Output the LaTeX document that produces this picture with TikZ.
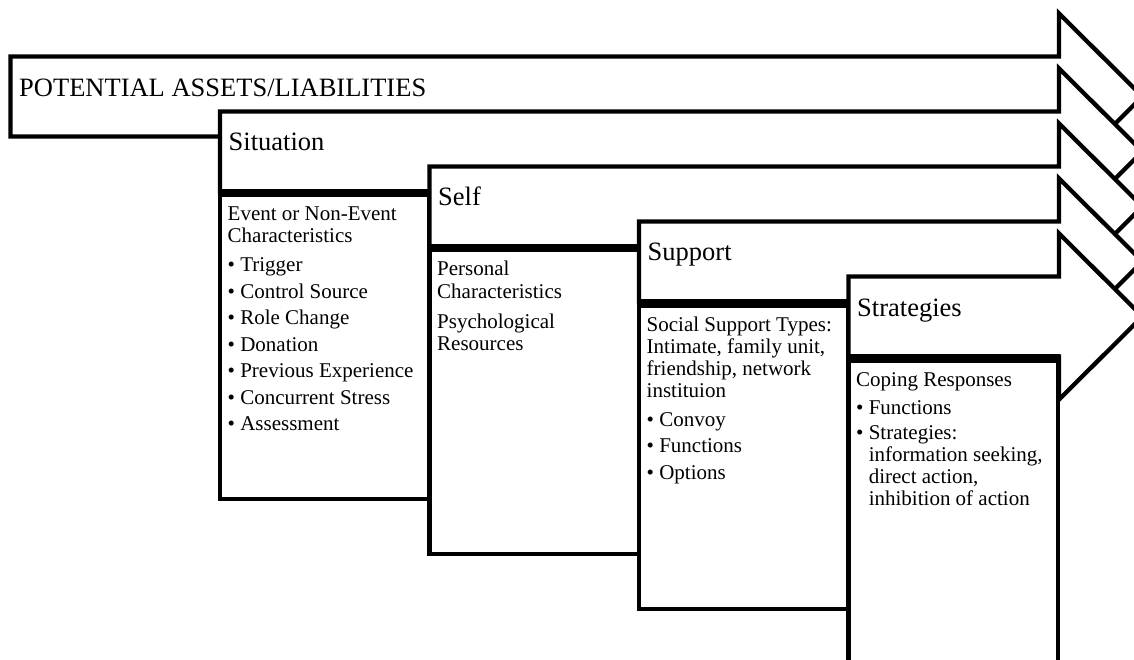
\documentclass[tikz,border=0pt]{standalone}
\usepackage{fontspec}
\setmainfont{Liberation Serif}
\newcommand{\bul}{\textbullet\ }
\newcommand{\bulgap}{\hphantom{\textbullet\ }}
\tikzset{
  shape line/.style={draw=black, fill=white, line width=4.3pt, line join=miter},
  separator/.style={draw=black, line width=8pt},
  head text/.style={anchor=base west, inner sep=0pt, font=\fontsize{26.5}{29}\selectfont},
  body text/.style={anchor=base west, inner sep=0pt, font=\fontsize{21}{22}\selectfont},
}
\begin{document}
\begin{tikzpicture}[x=1pt,y=-1pt]
\useasboundingbox (0,0) rectangle (1134,660);
\clip (0,0) rectangle (1134,660);
\foreach \i/\hasbox in {0/0,1/1,2/1,3/1,4/1} {
  \pgfmathsetmacro\cx{10.5+209.5*\i}
  \pgfmathsetmacro\ct{56.5+55*\i}
  \pgfmathsetmacro\cr{min(\cx+209.5,1059)}
  \draw[shape line] (\cx,\ct) -- (1059,\ct) -- (1059,\ct-43) -- (1142.5,\ct+40)
        -- (1059,\ct+123) -- (1059,\ct+80) -- (\cx,\ct+80) -- cycle;
  \ifnum\hasbox=1
    \draw[shape line] (\cx,\ct+80) rectangle (\cr,\ct+387.5);
    \draw[separator] (\cx-2,\ct+82) -- (\cr+2,\ct+82);
  \fi
}
% headers
\node[head text] (potential) at (19,96.5) {POTENTIAL ASSETS/LIABILITIES};
\node[head text] (situation) at (228.5,151) {Situation};
\node[head text] (self) at (438,206) {Self};
\node[head text] (support) at (647.5,261) {Support};
\node[head text] (strategies) at (857,316) {Strategies};
% contents
\node[body text] (situationbody) at (227.5,221) {\parbox[t]{205pt}{\raggedright
  Event or Non-Event\\Characteristics\\[7pt]
  \bul Trigger\\[4.5pt]
  \bul Control Source\\[4.5pt]
  \bul Role Change\\[4.5pt]
  \bul Donation\\[4.5pt]
  \bul Previous Experience\\[4.5pt]
  \bul Concurrent Stress\\[4.5pt]
  \bul Assessment}};
\node[body text] (selfbody) at (437,276) {\parbox[t]{205pt}{\raggedright
  Personal\\Characteristics\\[8pt]
  Psychological\\Resources}};
\node[body text] (supportbody) at (646.5,331) {\parbox[t]{205pt}{\raggedright
  Social Support Types:\\Intimate, family unit,\\friendship, network\\instituion\\[7pt]
  \bul Convoy\\[4.5pt]
  \bul Functions\\[4.5pt]
  \bul Options}};
\node[body text] (strategiesbody) at (856,386) {\parbox[t]{205pt}{\raggedright
  Coping Responses\\[6pt]
  \bul Functions\\[3.5pt]
  \bul Strategies:\\
  \bulgap information seeking,\\
  \bulgap direct action,\\
  \bulgap inhibition of action}};
\end{tikzpicture}
\end{document}
